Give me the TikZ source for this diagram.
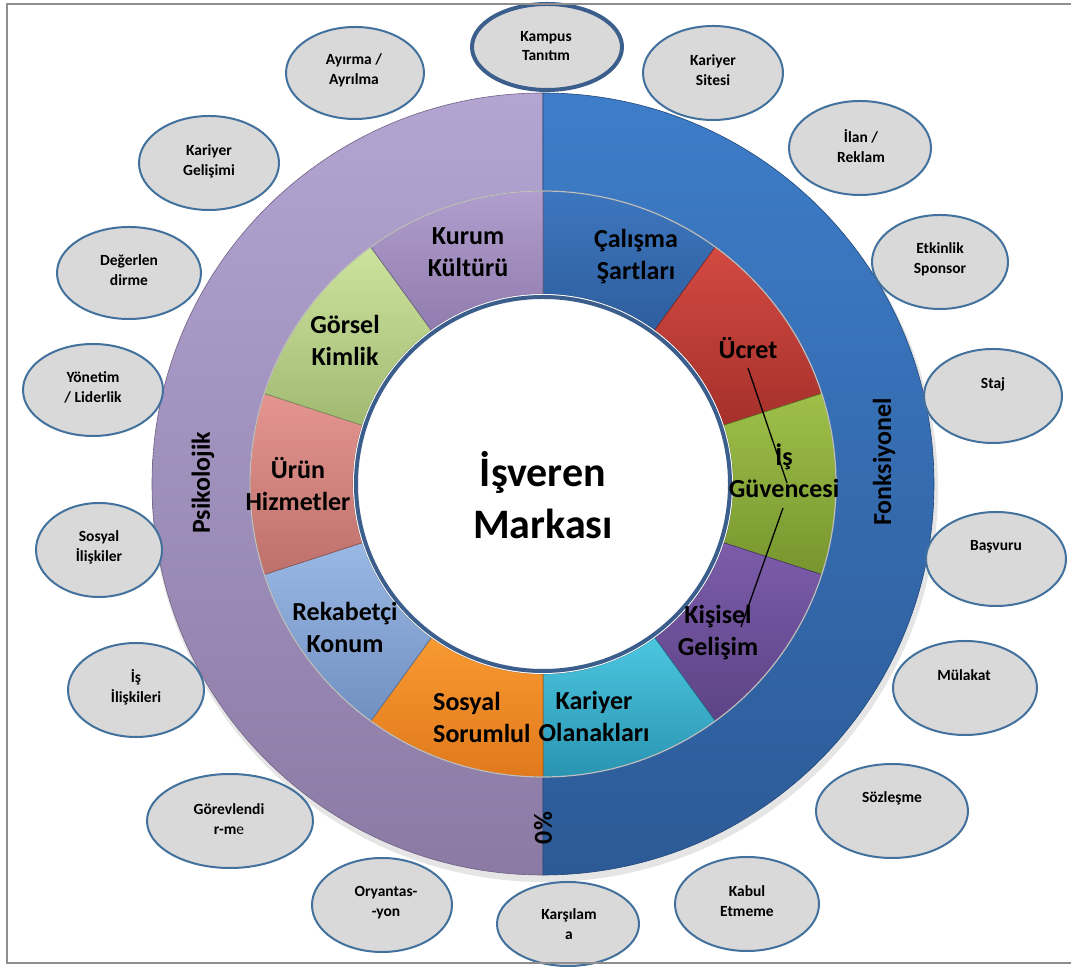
\documentclass[tikz,border=0pt]{standalone}
\usepackage{fontspec}
\setmainfont{Carlito}
\usetikzlibrary{shapes.geometric,calc}
\definecolor{lavT}{HTML}{B4A4D2}
\definecolor{lavB}{HTML}{8A7AA4}
\definecolor{bluT}{HTML}{3E7DC9}
\definecolor{bluB}{HTML}{2C5A96}
\definecolor{calT}{HTML}{3D76BE}
\definecolor{calB}{HTML}{2E5E9E}
\definecolor{ucrT}{HTML}{D24A42}
\definecolor{ucrB}{HTML}{A6302B}
\definecolor{isgT}{HTML}{9EC04A}
\definecolor{isgB}{HTML}{76962E}
\definecolor{kisT}{HTML}{7C5CAA}
\definecolor{kisB}{HTML}{5C4386}
\definecolor{karT}{HTML}{4CC6E0}
\definecolor{karB}{HTML}{2994B2}
\definecolor{sosT}{HTML}{F99A32}
\definecolor{sosB}{HTML}{E0791C}
\definecolor{rekT}{HTML}{9AB8E4}
\definecolor{rekB}{HTML}{7090C2}
\definecolor{urnT}{HTML}{E4958F}
\definecolor{urnB}{HTML}{BE706B}
\definecolor{gorT}{HTML}{CCE39E}
\definecolor{gorB}{HTML}{A1BA72}
\definecolor{kurT}{HTML}{B09ECE}
\definecolor{kurB}{HTML}{907CAE}
\definecolor{bubLine}{HTML}{41719C}
\definecolor{bubFill}{HTML}{D9D9D9}
\definecolor{hubLine}{HTML}{3B5E8C}
\definecolor{frameGray}{HTML}{8E8E8E}
\newcommand\ringseg[4]{%
  \path[top color=#3, bottom color=#4, draw=#4!75!black, line width=0.6]
    ($(c)+(#1:293)$) arc[start angle=#1, end angle=#2, radius=293]
    -- ($(c)+(#2:190)$) arc[start angle=#2, end angle=#1, radius=190] -- cycle;}
\begin{document}
\begin{tikzpicture}[x=1pt, y=1pt,
  bub/.style={ellipse, draw=bubLine, fill=bubFill, line width=2, inner sep=0pt},
  btxt/.style={font=\fontsize{15.5}{20}\selectfont\bfseries, align=center, inner sep=0pt},
  segtxt/.style={font=\fontsize{26}{32}\selectfont\bfseries, align=center, inner sep=0pt},
  leader/.style={draw=black, line width=1.3}]
\path[fill=white, use as bounding box] (0,0) rectangle (1071,968);
\coordinate (c) at (543,484);
% soft shadow
\fill[black!10] ($(c)+(2,-5)$) circle (393);
% outer ring
\path[top color=lavT, bottom color=lavB, draw=lavB!80!black, line width=0.6]
  ($(c)+(90:391)$) arc[start angle=90, end angle=270, radius=391]
  -- ($(c)+(270:293)$) arc[start angle=270, end angle=90, radius=293] -- cycle;
\path[top color=bluT, bottom color=bluB, draw=bluB!80!black, line width=0.6]
  ($(c)+(-90:391)$) arc[start angle=-90, end angle=90, radius=391]
  -- ($(c)+(90:293)$) arc[start angle=90, end angle=-90, radius=293] -- cycle;
% inner segments
\ringseg{54}{90}{calT}{calB}
\ringseg{18}{54}{ucrT}{ucrB}
\ringseg{-18}{18}{isgT}{isgB}
\ringseg{-54}{-18}{kisT}{kisB}
\ringseg{-90}{-54}{karT}{karB}
\ringseg{-126}{-90}{sosT}{sosB}
\ringseg{-162}{-126}{rekT}{rekB}
\ringseg{162}{198}{urnT}{urnB}
\ringseg{126}{162}{gorT}{gorB}
\ringseg{90}{126}{kurT}{kurB}
\draw[black!25, line width=1.2] (c) circle (293);
% hub
\fill[white] (c) circle (190);
\draw[hubLine, line width=4] (c) circle (187);
\node[font=\fontsize{42}{52}\selectfont\bfseries, align=center, inner sep=0pt] (hub) at (543,472.5) {İşveren\\Markası};
% segment labels
\node[segtxt] (kurum) at (468,716) {Kurum\\Kültürü};
\node[segtxt] (calisma) at (636,711.5) {Çalışma\\Şartları};
\node[segtxt] (ucret) at (748,620) {Ücret};
\node[segtxt] (isg) at (784,497) {İş\\Güvencesi};
\node[segtxt] (kisisel) at (718,335.5) {Kişisel\\Gelişim};
\node[segtxt] (kariyer) at (594,252) {Kariyer\\Olanakları};
\node[segtxt, align=left, anchor=west] (sosyal) at (433,251) {Sosyal\\Sorumlul};
\node[segtxt] (rekabet) at (345,341) {Rekabetçi\\Konum};
\node[segtxt] (urun) at (298,484) {Ürün\\Hizmetler};
\node[segtxt] (gorsel) at (345,628) {Görsel\\Kimlik};
\node[segtxt, rotate=90] (psi) at (203,485) {Psikolojik};
\node[segtxt, rotate=90] (fonk) at (884,506) {Fonksiyonel};
\node[segtxt, rotate=90] (zero) at (543,140) {0\%};
% leader lines
\coordinate (la1) at (748,600);
\coordinate (la2) at (787,485);
\coordinate (lb1) at (783,460);
\coordinate (lb2) at (741,341);
\draw[leader] (la1) -- (la2);
\draw[leader] (lb1) -- (lb2);
% bubbles
\node[bub, line width=4, draw=hubLine, minimum width=150, minimum height=86] (e1) at (547,921) {};
\node[btxt, font=\fontsize{15.5}{19}\selectfont\bfseries] (t1) at (546,921.5) {Kampus\\Tanıtım};
\node[bub, minimum width=138, minimum height=92] (e2) at (355,895) {};
\node[btxt] (t2) at (354,898) {Ayırma /\\Ayrılma};
\node[bub, minimum width=140, minimum height=94] (e3) at (713,895) {};
\node[btxt] (t3) at (713,898) {Kariyer\\Sitesi};
\node[bub, minimum width=140, minimum height=94] (e4) at (209,805) {};
\node[btxt] (t4) at (209,807) {Kariyer\\Gelişimi};
\node[bub, minimum width=142, minimum height=94] (e5) at (860,820) {};
\node[btxt] (t5) at (861,822) {İlan /\\Reklam};
\node[bub, minimum width=144, minimum height=92] (e6) at (129,695) {};
\node[btxt] (t6) at (129,697.5) {Değerlen\\dirme};
\node[bub, minimum width=136, minimum height=94] (e7) at (940,706) {};
\node[btxt] (t7) at (940,709) {Etkinlik\\Sponsor};
\node[bub, minimum width=140, minimum height=92] (e8) at (93,578) {};
\node[btxt] (t8) at (93,581) {Yönetim\\/ Liderlik};
\node[bub, minimum width=138, minimum height=94] (e9) at (993,572) {};
\node[btxt] (t9) at (993,584) {Staj};
\node[bub, minimum width=126, minimum height=94] (e10) at (99,418) {};
\node[btxt] (t10) at (99,421) {Sosyal\\İlişkiler};
\node[bub, minimum width=140, minimum height=94] (e11) at (996,409) {};
\node[btxt] (t11) at (996,421) {Başvuru};
\node[bub, minimum width=136, minimum height=94] (e12) at (136,278) {};
\node[btxt] (t12) at (136,281) {İş\\İlişkileri};
\node[bub, minimum width=144, minimum height=94] (e13) at (965,280) {};
\node[btxt] (t13) at (964,293) {Mülakat};
\node[bub, minimum width=166, minimum height=94] (e14) at (230,147) {};
\node[btxt] (t14) at (229,148.5) {Görevlendi\\r-m{\mdseries e}};
\node[bub, minimum width=152, minimum height=94] (e15) at (892,157) {};
\node[btxt] (t15) at (892,170) {Sözleşme};
\node[bub, minimum width=140, minimum height=94] (e16) at (382,63) {};
\node[btxt] (t16) at (386,65) {Oryantas-\\-yon};
\node[bub, minimum width=142, minimum height=84] (e17) at (568,44) {};
\node[btxt] (t17) at (569,43.5) {Karşılam\\a};
\node[bub, minimum width=144, minimum height=94] (e18) at (747,64) {};
\node[btxt] (t18) at (747,67) {Kabul\\Etmeme};
% frame
\draw[frameGray, line width=2] (1071,964) -- (7,964) -- (7,5) -- (1071,5);
\end{tikzpicture}
\end{document}
